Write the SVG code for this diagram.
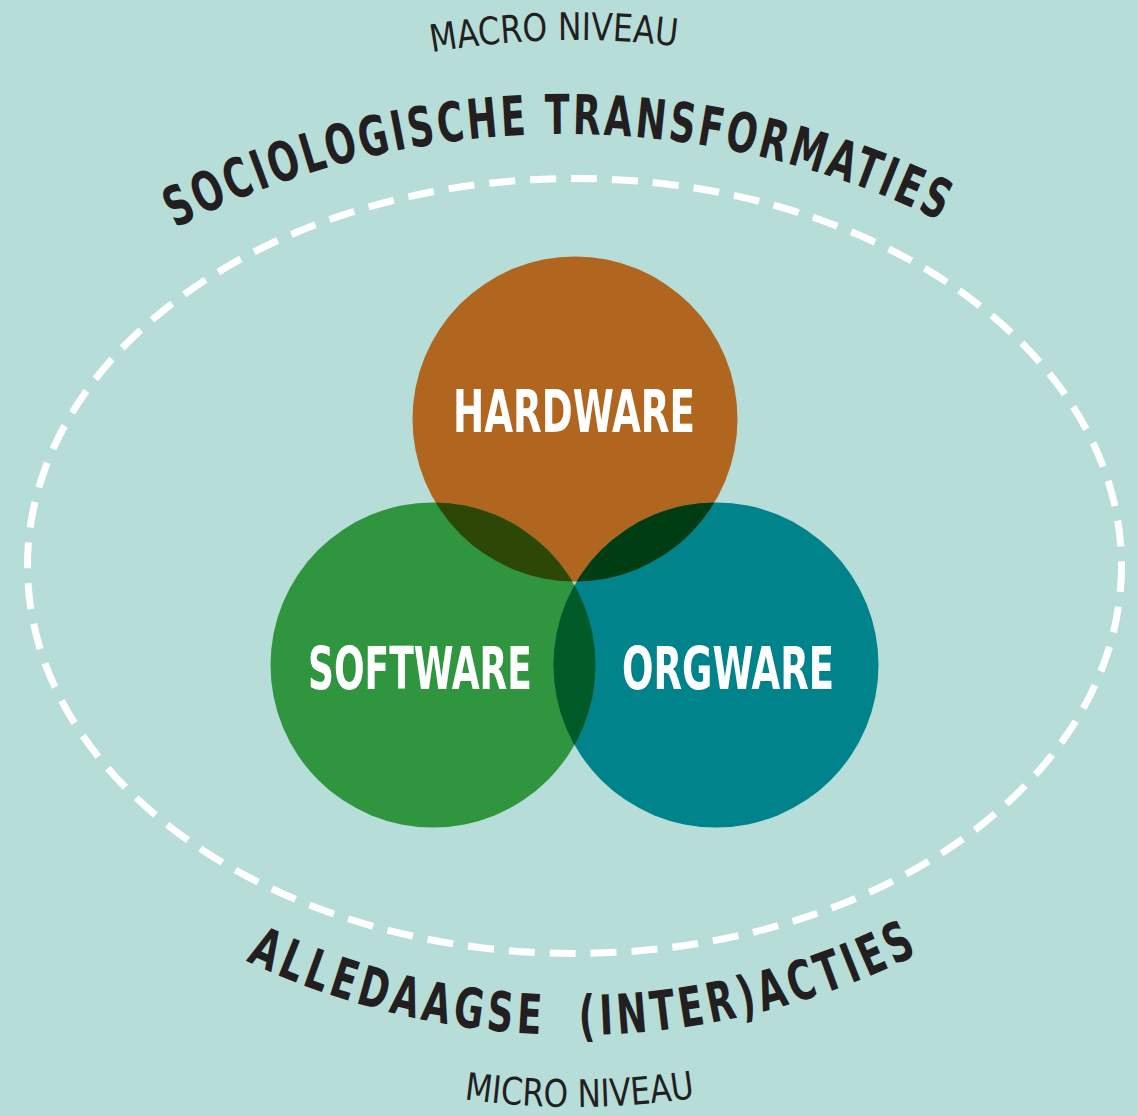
<svg xmlns="http://www.w3.org/2000/svg" xmlns:xlink="http://www.w3.org/1999/xlink" width="1137" height="1116" viewBox="0 0 1137 1116">
<style>
.arcB{font-family:"DejaVu Sans Condensed","DejaVu Sans","Liberation Sans",sans-serif;font-stretch:condensed;font-weight:bold;font-size:55px;fill:#231f20;}
.arcL{font-family:"DejaVu Sans Condensed","DejaVu Sans","Liberation Sans",sans-serif;font-stretch:condensed;font-weight:normal;font-size:38px;fill:#231f20;}
.lbl{font-family:"DejaVu Sans Condensed","DejaVu Sans","Liberation Sans",sans-serif;font-stretch:condensed;font-weight:bold;font-size:59px;fill:#ffffff;text-anchor:middle;}
</style>
<defs>
<path id="pMacro" d="M -254 869 A 829 829 0 0 1 1404 869"/>
<path id="pSocio" d="M -288 987 A 853 853 0 0 1 1418 987"/>
<path id="pAlle" d="M -191 269 A 766 766 0 0 0 1341 269"/>
<path id="pMicro" d="M -209 323 A 784 784 0 0 0 1359 323"/>
<clipPath id="cH"><circle cx="575" cy="419" r="162.5"/></clipPath>
<clipPath id="cS"><circle cx="433" cy="665" r="162.5"/></clipPath>
</defs>
<rect x="0" y="0" width="1137" height="1116" fill="#b7ddd8"/>
<g id="context">
<ellipse cx="574.5" cy="566" rx="547" ry="387.5" fill="none" stroke="#ffffff" stroke-width="7" stroke-dasharray="26 15"/>
</g>
<g id="macro-niveau"><text class="arcL"><textPath xlink:href="#pMacro" href="#pMacro" startOffset="1281" text-anchor="middle" textLength="246" lengthAdjust="spacingAndGlyphs">MACRO NIVEAU</textPath></text></g>
<g id="sociologische-transformaties"><text class="arcB"><textPath xlink:href="#pSocio" href="#pSocio" startOffset="1333" text-anchor="middle" textLength="796" lengthAdjust="spacingAndGlyphs" letter-spacing="4">SOCIOLOGISCHE TRANSFORMATIES</textPath></text></g>
<g id="alledaagse-interacties"><text class="arcB"><textPath xlink:href="#pAlle" href="#pAlle" startOffset="1213" text-anchor="middle" textLength="700" lengthAdjust="spacingAndGlyphs" letter-spacing="6" xml:space="preserve">ALLEDAAGSE  (INTER)ACTIES</textPath></text></g>
<g id="micro-niveau"><text class="arcL"><textPath xlink:href="#pMicro" href="#pMicro" startOffset="1236" text-anchor="middle" textLength="232" lengthAdjust="spacingAndGlyphs">MICRO NIVEAU</textPath></text></g>
<g id="hardware">
<circle cx="575" cy="419" r="162.5" fill="#b0661e"/>
</g>
<g id="software">
<circle cx="433" cy="665" r="162.5" fill="#2f963f"/>
</g>
<g id="orgware">
<circle cx="716" cy="665" r="162.5" fill="#00838a"/>
</g>
<g id="overlaps">
<circle cx="433" cy="665" r="162.5" fill="#2d4707" clip-path="url(#cH)"/>
<circle cx="716" cy="665" r="162.5" fill="#003d13" clip-path="url(#cH)"/>
<circle cx="716" cy="665" r="162.5" fill="#005a28" clip-path="url(#cS)"/>
<g clip-path="url(#cH)"><circle cx="716" cy="665" r="162.5" fill="#0c2a08" clip-path="url(#cS)"/></g>
</g>
<g id="labels">
<text class="lbl" x="574" y="432" textLength="242" lengthAdjust="spacingAndGlyphs">HARDWARE</text>
<text class="lbl" x="420" y="689" textLength="224" lengthAdjust="spacingAndGlyphs">SOFTWARE</text>
<text class="lbl" x="728" y="689" textLength="212" lengthAdjust="spacingAndGlyphs">ORGWARE</text>
</g>
</svg>
